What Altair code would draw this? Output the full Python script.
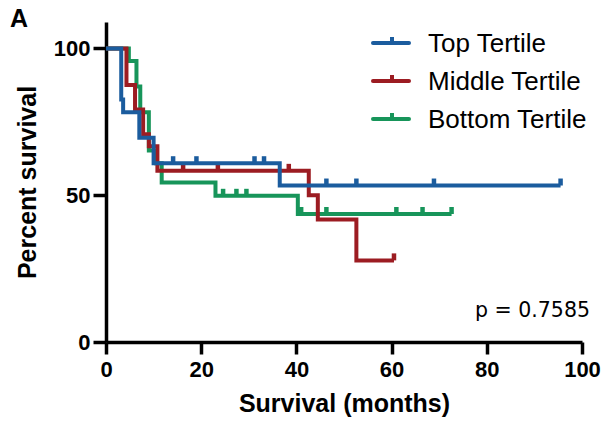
import altair as alt
import pandas as pd

# ---- data ----
series_names = ["Top Tertile", "Middle Tertile", "Bottom Tertile"]

top_t = [0, 3.2, 3.6, 7.0, 10.0, 36.5, 95.5]
top_s = [100, 82.6, 78.3, 69.6, 60.9, 53.3, 53.3]
top_cens = [14.1, 19.0, 31.2, 33.2, 46.3, 52.6, 68.9, 95.5]

mid_t = [0, 4.3, 6.1, 7.8, 9.0, 10.8, 42.6, 44.5, 52.6, 60.5]
mid_s = [100, 87.5, 79.2, 70.8, 66.7, 58.3, 50.0, 41.7, 27.8, 27.8]
mid_cens = [16.2, 23.5, 38.4, 60.5]

bot_t = [0, 4.8, 6.4, 7.2, 9.0, 10.5, 11.7, 23.0, 40.3, 72.6]
bot_s = [100, 95.7, 87.0, 78.3, 65.2, 60.9, 54.3, 49.8, 43.6, 43.6]
bot_cens = [24.6, 27.4, 29.5, 41.0, 46.3, 61.0, 66.5, 72.6]

x_ticks = [0, 20, 40, 60, 80, 100]
y_ticks = [0, 50, 100]
p_label = "p = 0.7585"
panel_label = "A"

colors = ["#1b5c9e", "#9c1c22", "#17955a"]

# ---- build tables ----
all_t = [top_t, mid_t, bot_t]
all_s = [top_s, mid_s, bot_s]
all_c = [top_cens, mid_cens, bot_cens]


def surv_at(ts, ss, t):
    v = ss[0]
    for ti, si in zip(ts, ss):
        if ti <= t:
            v = si
    return v


curve_rows, cens_rows = [], []
for name, ts, ss, cs in zip(series_names, all_t, all_s, all_c):
    for ti, si in zip(ts, ss):
        curve_rows.append({"group": name, "t": ti, "s": si})
    for c in cs:
        cens_rows.append({"group": name, "t": c, "s": surv_at(ts, ss, c)})

curves = pd.DataFrame(curve_rows)
cens = pd.DataFrame(cens_rows)

W, H = 476, 320
xs = alt.Scale(domain=[0, 100], nice=False, zero=False)
ys = alt.Scale(domain=[0, 109], nice=False, zero=False)
cs = alt.Scale(domain=series_names, range=colors)

FONT = "Liberation Sans"

x_axis = alt.Axis(values=x_ticks, title="Survival (months)", grid=False, labelFlush=False,
                  tickSize=12, labelPadding=5, titlePadding=11)
y_axis = alt.Axis(values=y_ticks, title="Percent survival", grid=False, labelFlush=False,
                  tickSize=13, labelPadding=3, titlePadding=13)

layers = []
for name in reversed(series_names):
    sub = curves[curves.group == name]
    line = alt.Chart(sub).mark_line(interpolate="step-after", strokeWidth=4,
                                    strokeJoin="miter").encode(
        x=alt.X("t:Q", scale=xs, axis=x_axis),
        y=alt.Y("s:Q", scale=ys, axis=y_axis),
        color=alt.Color("group:N", scale=cs, legend=None),
    )
    layers.append(line)
    subc = cens[cens.group == name]
    ticks = alt.Chart(subc).mark_rule(strokeWidth=4.5, y2Offset=-7).encode(
        x=alt.X("t:Q", scale=xs),
        y=alt.Y("s:Q", scale=ys),
        y2="s:Q",
        color=alt.Color("group:N", scale=cs, legend=None),
    )
    layers.append(ticks)

# manual legend
leg_y = [21, 59, 97]
for name, col, ly in zip(series_names, colors, leg_y):
    one = pd.DataFrame({"label": [name]})
    layers.append(alt.Chart(one).mark_rule(strokeWidth=4, strokeCap="round", color=col).encode(
        x=alt.value(267), x2=alt.value(303), y=alt.value(ly)))
    layers.append(alt.Chart(one).mark_rule(strokeWidth=4, color=col).encode(
        x=alt.value(286), y=alt.value(ly), y2=alt.value(ly - 6)))
    layers.append(alt.Chart(one).mark_text(align="left", baseline="middle", font=FONT,
                                           fontSize=26, color="black").encode(
        x=alt.value(322), y=alt.value(ly + 1), text="label:N"))

pdf = pd.DataFrame({"label": [p_label]})
layers.append(alt.Chart(pdf).mark_text(align="right", baseline="alphabetic", font="DejaVu Sans",
                                       fontSize=20.5, color="black").encode(
    x=alt.value(484), y=alt.value(295), text="label:N"))

adf = pd.DataFrame({"label": [panel_label]})
layers.append(alt.Chart(adf).mark_text(align="left", baseline="alphabetic", font=FONT,
                                       fontSize=25, fontWeight="bold", color="black").encode(
    x=alt.value(-96), y=alt.value(5), text="label:N"))

chart = alt.layer(*layers).properties(
    width=W, height=H,
    autosize=alt.AutoSizeParams(type="none"),
    padding={"left": 106, "top": 22, "right": 26, "bottom": 89},
).configure_view(stroke=None).configure_axis(
    domainColor="black", domainWidth=3.5, tickColor="black", tickWidth=3.5,
    labelFont=FONT, labelFontSize=22, labelFontWeight="bold", labelColor="black",
    titleFont=FONT, titleFontSize=25, titleFontWeight="bold", titleColor="black",
)

chart.save("out.html", embed_options={"renderer": "svg", "actions": False})
